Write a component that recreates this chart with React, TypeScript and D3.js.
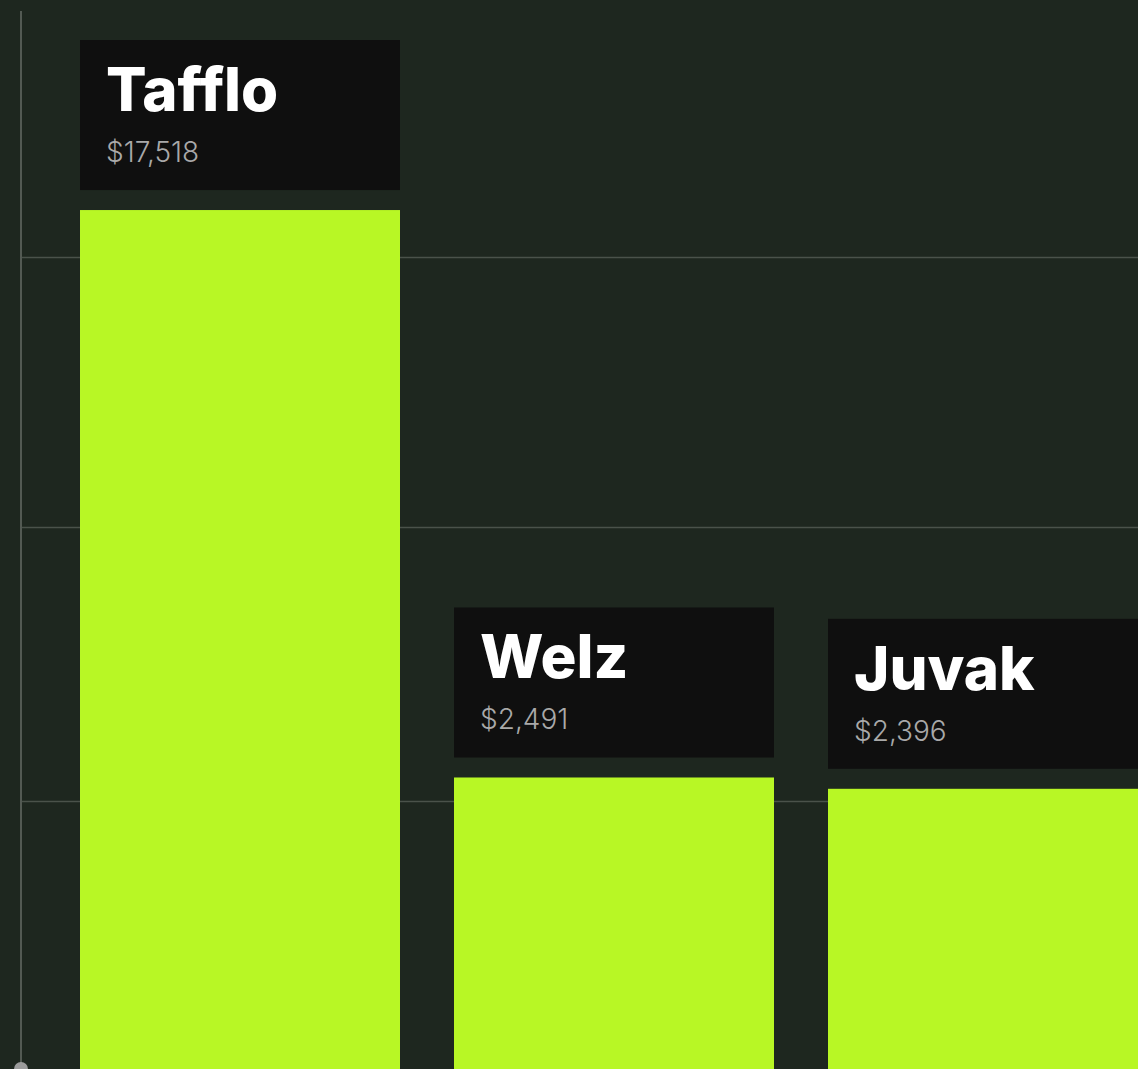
import React from "react";
import * as d3 from "d3";

const categories: string[] = ["Tafflo", "Welz", "Juvak"];
const values: number[] = [17518, 2491, 2396];
const gridValues: number[] = [2300, 5900, 14900];

const W = 1138;
const H = 1069;

export default function App() {
  const x = d3
    .scaleBand<string>()
    .domain(categories)
    .range([80, 1148])
    .paddingInner(0.1444)
    .paddingOuter(0);

  const y = d3.scaleLog().domain([1000, 20000]).range([1043, 171.5]);

  const fmt = d3.format("$,");
  const axisX = 21;

  return (
    <div style={{ position: "fixed", left: 0, top: 0, width: W, height: H, overflow: "hidden" }}>
      <svg width={W} height={H} style={{ display: "block" }}>
        <rect x={0} y={0} width={W} height={H} fill="#1e271f" />
        {gridValues.map((g) => (
          <line
            key={g}
            x1={axisX}
            x2={W}
            y1={Math.round(y(g)) + 0.5}
            y2={Math.round(y(g)) + 0.5}
            stroke="#4a524a"
            strokeWidth={1.5}
          />
        ))}
        <line x1={axisX} x2={axisX} y1={11} y2={H} stroke="#535a53" strokeWidth={2} />
        <circle cx={axisX} cy={H} r={7} fill="#9c9c9c" />
        {categories.map((c, i) => {
          const x0 = x(c) as number;
          const bw = x.bandwidth();
          const top = y(values[i]);
          const boxBottom = top - 20;
          const boxTop = boxBottom - 150;
          return (
            <g key={c}>
              <rect x={x0} y={top} width={bw} height={H - top} fill="#b8f725" />
              <rect x={x0} y={boxTop} width={bw} height={150} fill="#0f0f0f" />
              <text
                x={x0 + 26}
                y={boxTop + 71}
                fill="#ffffff"
                fontFamily="Inter, 'Open Sans', sans-serif"
                fontWeight={800}
                fontSize={60}
                style={{ fontVariantLigatures: "none" }}
              >
                {c}
              </text>
              <text
                x={x0 + 26}
                y={boxTop + 122}
                fill="#a9a9a9"
                fontFamily="Inter, 'Open Sans', sans-serif"
                fontWeight={300}
                fontSize={28}
              >
                {fmt(values[i])}
              </text>
            </g>
          );
        })}
      </svg>
    </div>
  );
}
